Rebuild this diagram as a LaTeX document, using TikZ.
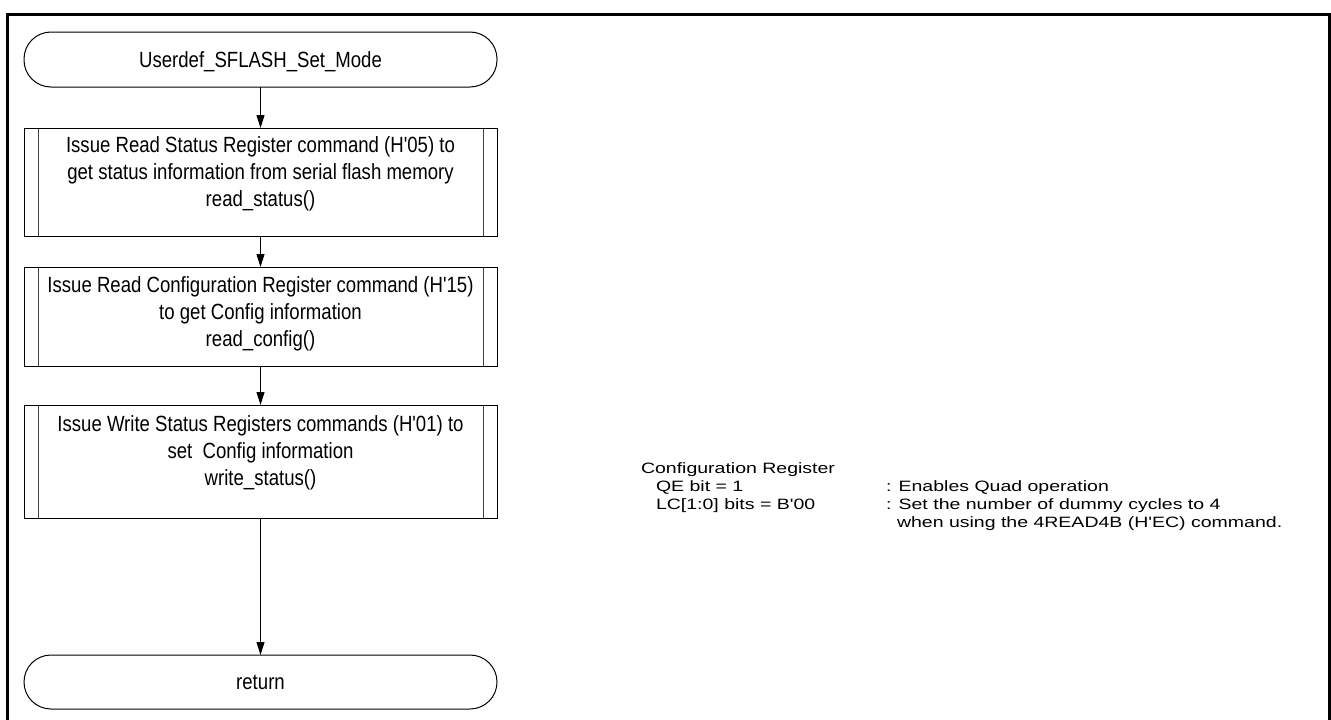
\documentclass[tikz,border=0pt]{standalone}
\usepackage{fontspec}
\setmainfont{Liberation Sans}
\newfontfamily\boxfont[FakeStretch=0.845]{Liberation Sans}
\newfontfamily\notefont[FakeStretch=1.3]{Liberation Sans}
\usetikzlibrary{arrows.meta}
\begin{document}
\begin{tikzpicture}[x=1pt,y=-1pt,
  every node/.style={inner sep=0pt,outer sep=0pt},
  term/.style={draw,line width=1pt,rounded corners=27pt,minimum width=473pt,
    text height=15.7pt,text depth=0pt,
    font={\boxfont\fontsize{22}{27}\selectfont}},
  proc/.style={draw,line width=1pt,minimum width=473pt,
    path picture={\draw[line width=0.8pt,black!75]
      ([xshift=14pt]path picture bounding box.north west) -- ([xshift=14pt]path picture bounding box.south west)
      ([xshift=-14pt]path picture bounding box.north east) -- ([xshift=-14pt]path picture bounding box.south east);}},
  proctext/.style={anchor=north,align=center,font={\boxfont\fontsize{22}{27}\selectfont}},
  flow/.style={line width=1pt,-{Triangle[width=8pt,length=13pt]}},
  note/.style={anchor=base west,font={\notefont\fontsize{15}{18}\selectfont}}]
\useasboundingbox (0,0) rectangle (1331,720);
\draw[line width=3pt] (7,730) -- (7,14) -- (1329,14) -- (1329,730);

\node[term,minimum height=55pt] (start) at (260.5,59.5) {Userdef\_SFLASH\_Set\_Mode};
\node[proc,minimum height=108pt] (b1) at (260.5,182) {};
\node[proctext] (t1) at ([yshift=-9pt]b1.north) {Issue Read Status Register command (H'05) to\\get status information from serial flash memory\\read\_status()};
\node[proc,minimum height=99pt] (b2) at (260.5,316.5) {};
\node[proctext] (t2) at ([yshift=-10pt]b2.north) {Issue Read Configuration Register command (H'15)\\to get Config information\\read\_config()};
\node[proc,minimum height=113pt] (b3) at (260.5,461.5) {};
\node[proctext] (t3) at ([yshift=-11pt]b3.north) {Issue Write Status Registers commands (H'01) to\\set\ \ Config information\\write\_status()};
\node[term,minimum height=54pt] (ret) at (260.5,682) {return};

\draw[flow] (start) -- (b1);
\draw[flow] (b1) -- (b2);
\draw[flow] (b2) -- (b3);
\draw[flow] (b3) -- (ret);

\node[note] (n0) at (641,473) {Configuration Register};
\node[note] (n1) at (656,491) {QE bit = 1};
\node[note] (n2) at (886,491) {: Enables Quad operation};
\node[note] (n3) at (656,509) {LC[1:0] bits = B'00};
\node[note] (n4) at (886,509) {: Set the number of dummy cycles to 4};
\node[note] (n5) at (897,527) {when using the 4READ4B (H'EC) command.};
\end{tikzpicture}
\end{document}
